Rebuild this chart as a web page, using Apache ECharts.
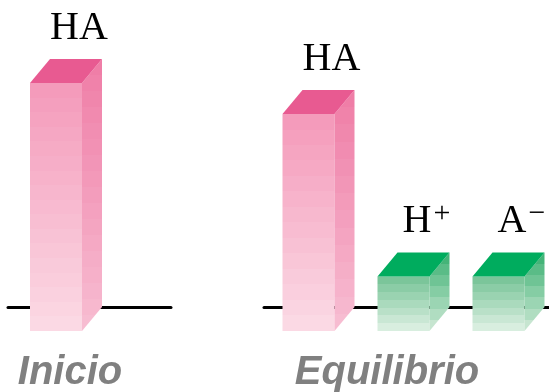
<!DOCTYPE html>
<html>
<head>
<meta charset="utf-8">
<script src="https://cdn.jsdelivr.net/npm/echarts@6/dist/echarts.min.js"></script>
<style>html,body{margin:0;padding:0;background:#fff;}#c{width:549px;height:392px;}</style>
</head>
<body>
<div id="c"></div>
<script>
// ---- data ----
const groups = ['Inicio', 'Equilibrio'];
const inicioSpecies = ['HA'];
const inicioValues = [1.0];
const equilibrioSpecies = ['HA', 'H+', 'A−'];
const equilibrioValues = [0.875, 0.22, 0.22];
const speciesBase = { 'HA': 'HA', 'H+': 'H', 'A−': 'A' };
const speciesCharge = { 'HA': '', 'H+': '+', 'A−': '−' };

// ---- styles ----
const W = 52, DX = 20, DY = 24;
const palette = {
  acid: { top: '#e85a91', frontTop: '#f49bbb', frontBottom: '#fbd9e4', sideTop: '#ef7ea7', sideBottom: '#f7bcd1', band: 15 },
  ion:  { top: '#00ac5e', frontTop: '#7bc59a', frontBottom: '#d8eedf', sideTop: '#44b478', sideBottom: '#c6e5d0', band: 8 }
};

function hexToRgb(h){ h=h.replace('#',''); return [parseInt(h.substr(0,2),16),parseInt(h.substr(2,2),16),parseInt(h.substr(4,2),16)]; }
function mix(a,b,t){ const A=hexToRgb(a),B=hexToRgb(b); return 'rgb('+A.map((v,i)=>Math.round(v+(B[i]-v)*t)).join(',')+')'; }
function stepped(c1,c2,n){
  const stops=[];
  for(let i=0;i<n;i++){
    const col=mix(c1,c2,n===1?0:i/(n-1));
    stops.push({offset:i/n,color:col});
    stops.push({offset:(i+1)/n,color:col});
  }
  return {type:'linear',x:0,y:0,x2:0,y2:1,colorStops:stops};
}

function makeRender(species, shift){
  return function(params, api){
    const idx = api.value(0), val = api.value(1);
    const top = api.coord([idx, val]);
    const base = api.coord([idx, 0]);
    const name = species[params.dataIndex];
    const pal = name === 'HA' ? palette.acid : palette.ion;
    const fl = top[0] + shift - W/2;
    const yt = top[1], yb = base[1];
    const h = yb - yt;
    const bands = Math.max(3, Math.round(h/pal.band));
    const charge = speciesCharge[name];
    const txt = charge ? '{m|' + speciesBase[name] + '}{s|' + charge + '}' : '{m|' + speciesBase[name] + '}';
    return {
      type: 'group',
      children: [
        { type: 'rect', shape: { x: fl, y: yt + DY, width: W, height: h },
          style: { fill: stepped(pal.frontTop, pal.frontBottom, bands) } },
        { type: 'polygon', shape: { points: [[fl + W, yt + DY], [fl + W + DX, yt], [fl + W + DX, yb], [fl + W, yb + DY]] },
          style: { fill: stepped(pal.sideTop, pal.sideBottom, bands) } },
        { type: 'polygon', shape: { points: [[fl, yt + DY], [fl + DX, yt], [fl + W + DX, yt], [fl + W, yt + DY]] },
          style: { fill: pal.top } },
        { type: 'text', x: fl + DX + W/2 + 3, y: yt - 9,
          style: { text: txt, align: 'center', verticalAlign: 'bottom',
            rich: {
              m: { fontFamily: 'Liberation Serif', fontSize: 40, fill: '#000', lineHeight: 44 },
              s: { fontFamily: 'Liberation Serif', fontSize: 30, fill: '#000', verticalAlign: 'top', lineHeight: 26, padding: [0,0,0,2] }
            } } }
      ]
    };
  };
}

const axisCommon = {
  type: 'category',
  boundaryGap: true,
  axisLine: { lineStyle: { color: '#000', width: 3 } },
  axisTick: { show: false },
  axisLabel: { show: false },
  nameLocation: 'middle',
  nameGap: 46,
  nameTextStyle: { fontFamily: 'Liberation Sans', fontWeight: 'bold', fontStyle: 'italic', fontSize: 40, color: '#808080', padding: [0, 39, 0, 0] }
};

const chart = echarts.init(document.getElementById('c'), null, { renderer: 'canvas' });
chart.setOption({
  animation: false,
  grid: [
    { left: 8, width: 163, top: 59, bottom: 85, outerBoundsMode: 'none', containLabel: false },
    { left: 264, width: 285, top: 59, bottom: 85, outerBoundsMode: 'none', containLabel: false }
  ],
  xAxis: [
    Object.assign({}, axisCommon, { gridIndex: 0, data: inicioSpecies, name: groups[0] }),
    Object.assign({}, axisCommon, { gridIndex: 1, data: equilibrioSpecies, name: groups[1] })
  ],
  yAxis: [
    { type: 'value', gridIndex: 0, min: 0, max: 1, show: false },
    { type: 'value', gridIndex: 1, min: 0, max: 1, show: false }
  ],
  series: [
    { type: 'custom', xAxisIndex: 0, yAxisIndex: 0, clip: false,
      renderItem: makeRender(inicioSpecies, -33.5),
      data: inicioValues.map((v, i) => [i, v]) },
    { type: 'custom', xAxisIndex: 1, yAxisIndex: 1, clip: false,
      renderItem: makeRender(equilibrioSpecies, -3),
      data: equilibrioValues.map((v, i) => [i, v]) }
  ]
});
</script>
</body>
</html>
